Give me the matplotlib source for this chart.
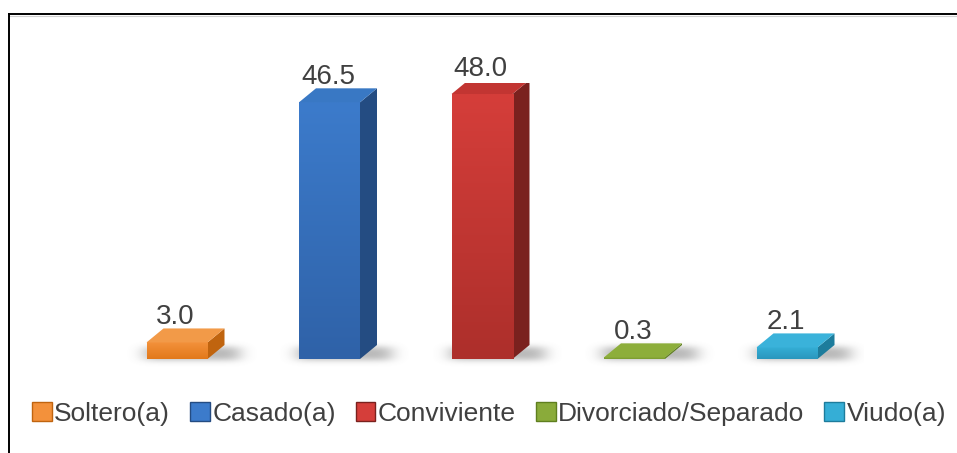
import numpy as np
import matplotlib
matplotlib.use('Agg')
import matplotlib.pyplot as plt
from matplotlib.patches import Polygon, Patch
from matplotlib.colors import LinearSegmentedColormap
from matplotlib.lines import Line2D

# datos del grafico (estado civil, %)
categorias = ['Soltero(a)', 'Casado(a)', 'Conviviente', 'Divorciado/Separado', 'Viudo(a)']
valores = [3.0, 46.5, 48.0, 0.3, 2.1]
etiquetas = ['3.0', '46.5', '48.0', '0.3', '2.1']

# colores: frente arriba, frente abajo, lado, tapa
col_frente_sup = ['#f3913b', '#3c7bcb', '#d53e3a', '#8aab3a', '#35aed6']
col_frente_inf = ['#e2791b', '#2f62a8', '#ad2f2b', '#7a9a30', '#2a97bd']
col_lado = ['#c0640f', '#244c82', '#7a211e', '#5f7f1f', '#1d7c9c']
col_tapa = ['#f29a48', '#3978c4', '#c23532', '#8dae3b', '#3ab2da']

plt.rcParams['font.family'] = ['Liberation Sans', 'DejaVu Sans']

W, H = 957, 453
fig = plt.figure(figsize=(W / 100, H / 100), dpi=100)

# ejes en pixeles
ax_l, ax_b, ax_w, ax_h = 100.75, 94, 762.5, 276
ax = fig.add_axes([ax_l / W, ax_b / H, ax_w / W, ax_h / H])
ax.set_xlim(-0.5, 4.5)
ax.set_ylim(0, 50)
ax.axis('off')

sx = ax_w / 5.0      # px por unidad x
sy = ax_h / 50.0     # px por unidad y
dx = 17 / sx         # profundidad 3D
dy = 14 / sy
ancho = 0.4

# sombra difusa bajo las barras
nx = int(ax_w)
y0px, y1px = -16, 32
xs = -0.5 + (np.arange(nx) + 0.5) / sx
ys_px = np.arange(y0px, y1px) + 0.5
mask = np.zeros((len(ys_px), nx))
for i in range(len(valores)):
    xl = i - ancho / 2
    xr = i + ancho / 2 + dx
    cols = (xs >= xl - 2 / sx) & (xs <= xr + 14 / sx)
    rows = (ys_px >= -1) & (ys_px <= 12)
    mask[np.ix_(rows, cols)] = 1
k = np.arange(-20, 21)
kern = np.exp(-k ** 2 / (2 * 8.0 ** 2))
kern /= kern.sum()
mask = np.apply_along_axis(lambda r: np.convolve(r, kern, mode='same'), 1, mask)
kern2 = np.exp(-k ** 2 / (2 * 3.0 ** 2))
kern2 /= kern2.sum()
mask = np.apply_along_axis(lambda c: np.convolve(c, kern2, mode='same'), 0, mask)
img = np.zeros((len(ys_px), nx, 4))
img[..., :3] = 0.45
img[..., 3] = mask * 0.5
ax.imshow(img, extent=[-0.5, 4.5, y0px / sy, y1px / sy], origin='lower',
          aspect='auto', zorder=1, interpolation='bilinear', clip_on=False)

for i, v in enumerate(valores):
    xl = i - ancho / 2
    xr = i + ancho / 2
    rect = ax.bar(i, v, width=ancho, color=col_frente_inf[i], lw=0, zorder=3)[0]
    cmap = LinearSegmentedColormap.from_list('g%d' % i, [col_frente_inf[i], col_frente_sup[i]])
    grad = np.linspace(0, 1, 100).reshape(-1, 1)
    im = ax.imshow(grad, cmap=cmap, extent=[xl, xr, 0, v], origin='lower',
                   aspect='auto', zorder=3.1)
    im.set_clip_path(rect)
    lado = Polygon([(xr, 0), (xr + dx, dy), (xr + dx, v + dy), (xr, v)],
                   closed=True, color=col_lado[i], lw=0, zorder=3)
    tapa = Polygon([(xl, v), (xr, v), (xr + dx, v + dy), (xl + dx, v + dy)],
                   closed=True, color=col_tapa[i], lw=0, zorder=3.2)
    ax.add_patch(lado)
    ax.add_patch(tapa)
    ax.text(i - 0.01, v + dy + 4 / sy, etiquetas[i], ha='center', va='baseline',
            fontsize=20, color='#404040', zorder=5, clip_on=False)

ax.set_xlim(-0.5, 4.5)
ax.set_ylim(0, 50)

handles = [Patch(facecolor=col_frente_sup[i], edgecolor=col_lado[i], lw=1)
           for i in range(len(categorias))]
fig.legend(handles, categorias, loc='center', bbox_to_anchor=(489 / W, 39 / H),
           ncol=5, frameon=False, fontsize=19, labelcolor='#404040',
           handlelength=0.75, handleheight=0.75, handletextpad=0.1,
           columnspacing=0.75, borderaxespad=0)

# marco
ytop = 1 - 14 / H
fig.add_artist(Line2D([9 / W, 1], [ytop, ytop], transform=fig.transFigure,
                      color='black', lw=1.4))
fig.add_artist(Line2D([9 / W, 1], [ytop - 1.5 / H, ytop - 1.5 / H], transform=fig.transFigure,
                      color='#d0d0d0', lw=0.8))
fig.add_artist(Line2D([9 / W, 9 / W], [0, ytop], transform=fig.transFigure,
                      color='black', lw=1.4))

fig.savefig('out.png', dpi=100)
